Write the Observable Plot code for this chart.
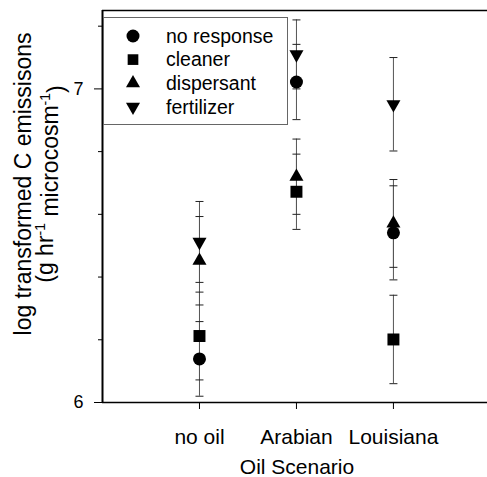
<!DOCTYPE html>
<html><head><meta charset="utf-8">
<script src="https://cdn.jsdelivr.net/npm/d3@7"></script>
<script src="https://cdn.jsdelivr.net/npm/@observablehq/plot@0.6"></script>
<style>
body{margin:0;background:#fff;}
#wrap{width:487px;height:477px;}
</style></head><body><div id="wrap"></div>
<script>
// Data
const scenarios = ["no oil", "Arabian", "Louisiana"];
const treatments = ["no response", "cleaner", "dispersant", "fertilizer"];
const noResponseMean = [6.139, 7.022, 6.541];
const noResponseSE   = [0.119, 0.120, 0.150];
const cleanerMean    = [6.212, 6.672, 6.201];
const cleanerSE      = [0.140, 0.120, 0.141];
const dispersantMean = [6.452, 6.720, 6.571];
const dispersantSE   = [0.141, 0.120, 0.140];
const fertilizerMean = [6.512, 7.110, 6.951];
const fertilizerSE   = [0.129, 0.110, 0.149];
const yMajorTicks = [6, 7];
const yMinorTicks = [6.2, 6.4, 6.6, 6.8, 7.2];
const xLabel = "Oil Scenario";
const yLabel1 = "log transformed C emissisons";

const meansList = [noResponseMean, cleanerMean, dispersantMean, fertilizerMean];
const seList = [noResponseSE, cleanerSE, dispersantSE, fertilizerSE];
const rows = [];
treatments.forEach((t, i) => {
  scenarios.forEach((s, j) => {
    const m = meansList[i][j], e = seList[i][j];
    rows.push({treatment: t, scenario: s, pos: j, mean: m, lo: m - e, hi: m + e});
  });
});

// custom symbols
const symCircle = {draw(ctx, size) { const r = Math.sqrt(size / Math.PI); ctx.moveTo(r, 0); ctx.arc(0, 0, r, 0, 2 * Math.PI); }};
const symSquare = {draw(ctx, size) { const r = Math.sqrt(size / Math.PI) * 0.92; ctx.rect(-r, -r, 2 * r, 2 * r); }};
const symUp = {draw(ctx, size) { const r = Math.sqrt(size / Math.PI); const w = r * 1.08, h = r * 1.9;
  ctx.moveTo(0, -2 * h / 3); ctx.lineTo(w, h / 3); ctx.lineTo(-w, h / 3); ctx.closePath(); }};
const symDown = {draw(ctx, size) { const r = Math.sqrt(size / Math.PI); const w = r * 1.08, h = r * 1.9;
  ctx.moveTo(0, 2 * h / 3); ctx.lineTo(w, -h / 3); ctx.lineTo(-w, -h / 3); ctx.closePath(); }};
const symCap = {draw(ctx, size) { ctx.moveTo(-4, 0); ctx.lineTo(4, 0); }};
const symbols = [symCircle, symSquare, symUp, symDown];

const font = "Arial, 'Liberation Sans', Helvetica, sans-serif";

const chart = Plot.plot({
  width: 487, height: 477,
  marginLeft: 102, marginRight: 0, marginTop: 10, marginBottom: 75,
  style: {fontFamily: font, background: "white", color: "black"},
  x: {domain: [-1, 2.97]},
  y: {domain: [6, 7.25]},
  marks: [
    Plot.ruleX(rows, {x: "pos", y1: "lo", y2: "hi", stroke: "#555", strokeWidth: 1}),
    Plot.dot(rows, {x: "pos", y: "lo", symbol: symCap, r: 4, stroke: "#222", strokeWidth: 1}),
    Plot.dot(rows, {x: "pos", y: "hi", symbol: symCap, r: 4, stroke: "#222", strokeWidth: 1}),
    ...treatments.map((t, i) => Plot.dot(rows.filter(d => d.treatment === t),
      {x: "pos", y: "mean", symbol: symbols[i], r: 6.5, fill: "black", stroke: "none"})),
    Plot.axisY({ticks: yMajorTicks, tickSize: 8, tickPadding: 11, fontSize: 18, label: null, tickFormat: d => String(d)}),
    Plot.axisY({ticks: yMinorTicks, tickSize: 4, label: null, tickFormat: () => ""}),
    Plot.axisX({ticks: [0, 1, 2], tickSize: 7, tickPadding: 20, fontSize: 21, label: null, tickFormat: i => scenarios[i]}),
    Plot.ruleY([6], {stroke: "black", strokeWidth: 1.5}),
    Plot.ruleY([7.25], {stroke: "black", strokeWidth: 1.5}),
    Plot.ruleX([-1], {stroke: "black", strokeWidth: 2})
  ]
});
document.getElementById("wrap").appendChild(chart);

const svg = d3.select(chart);
// axis titles
svg.append("text").attr("x", 297).attr("y", 474).attr("text-anchor", "middle")
  .attr("font-size", 21).attr("font-family", font).attr("fill", "black").text(xLabel);
svg.append("text").attr("transform", "translate(23,184) rotate(-90)").attr("text-anchor", "middle")
  .attr("dy", "0.35em").attr("font-size", 23).attr("font-family", font).attr("fill", "black").text(yLabel1);
const y2 = svg.append("text").attr("transform", "translate(45,184) rotate(-90)").attr("text-anchor", "middle")
  .attr("dy", "0.35em").attr("font-size", 23).attr("font-family", font).attr("fill", "black");
y2.append("tspan").text("(g hr");
y2.append("tspan").attr("font-size", 14).attr("dy", "-0.6em").text("-1");
y2.append("tspan").attr("dy", "0.6em").text(" microcosm");
y2.append("tspan").attr("font-size", 14).attr("dy", "-0.6em").text("-1");
y2.append("tspan").attr("dy", "0.6em").text(")");

// legend
const lg = svg.append("g");
lg.append("rect").attr("x", 103.5).attr("y", 17.5).attr("width", 184).attr("height", 107)
  .attr("fill", "white").attr("stroke", "#666").attr("stroke-width", 1);
const legendSizes = [Math.PI * 6.5 * 6.5, Math.PI * 5.8 * 5.8, Math.PI * 6.5 * 6.5, Math.PI * 6.5 * 6.5];
treatments.forEach((t, i) => {
  const y = 36 + i * 23.6;
  const p = d3.path();
  symbols[i].draw(p, legendSizes[i]);
  lg.append("path").attr("transform", `translate(133,${y})`).attr("d", p.toString()).attr("fill", "black");
  lg.append("text").attr("x", 166).attr("y", y).attr("dy", "0.35em").attr("font-size", 19.5)
    .attr("text-anchor", "start").attr("font-family", font).attr("fill", "black").text(t);
});
</script></body></html>
